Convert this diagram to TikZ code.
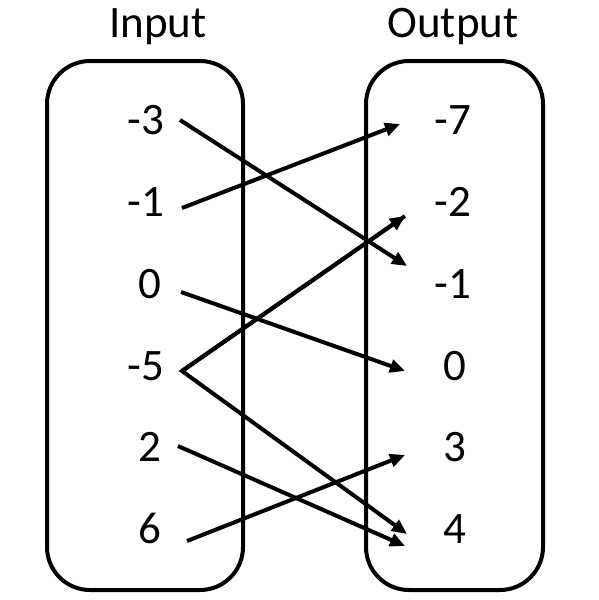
\documentclass[tikz,border=0pt]{standalone}
\usepackage{fontspec}
\setmainfont{Carlito}
\usetikzlibrary{arrows.meta,calc}
\begin{document}
\begin{tikzpicture}[x=1pt,y=-1pt,
  font=\fontsize{45}{54}\selectfont,
  setbox/.style={draw, line width=4pt, rounded corners=43pt, minimum width=196pt, minimum height=529pt, inner sep=0pt},
  num/.style={inner sep=0pt, text height=0.63em, text depth=0pt},
  title/.style={inner sep=0pt, anchor=base},
  arr/.style={line width=4pt, -{Triangle[length=15pt,width=13pt]}}]
\useasboundingbox (0,0) rectangle (599,600);
% boxes
\node[setbox] (inbox) at (145,325.5) {};
\node[setbox, minimum width=177pt] (outbox) at (454.5,325.5) {};
% titles
\node[title] (tin) at (158,37) {Input};
\node[title] (tout) at (453,37) {Output};
% input values
\node[num] (lA) at (146,131) {-3};
\node[num] (lB) at (146,213) {-1};
\node[num] (lC) at (150,295) {0};
\node[num] (lD) at (146,377) {-5};
\node[num] (lE) at (150,458) {2};
\node[num] (lF) at (150,540) {6};
% output values
\node[num] (rA) at (453,131) {-7};
\node[num] (rB) at (453,213) {-2};
\node[num] (rC) at (453,295) {-1};
\node[num] (rD) at (455,377) {0};
\node[num] (rE) at (455,458) {3};
\node[num] (rF) at (455,540) {4};
% mappings
\draw[arr] ($(lA.center)+(34,-11)$) -- ($(rC.center)+(-46,-29)$);
\draw[arr] ($(lB.center)+(36,-5)$) -- ($(rA.center)+(-53,-7)$);
\draw[arr] ($(lC.center)+(31,-3)$) -- ($(rD.center)+(-50,-6)$);
\draw[arr] ($(rB.center)+(-48,3)$) coordinate (tB) -- ($(lD.center)+(36,-6)$) coordinate (vD) -- ($(rF.center)+(-48,-6)$);
\draw[arr] (vD) -- (tB);
\draw[arr] ($(lE.center)+(28,-12)$) -- ($(rF.center)+(-50,6)$);
\draw[arr] ($(lF.center)+(37,1)$) -- ($(rE.center)+(-50,-3)$);
\end{tikzpicture}
\end{document}
